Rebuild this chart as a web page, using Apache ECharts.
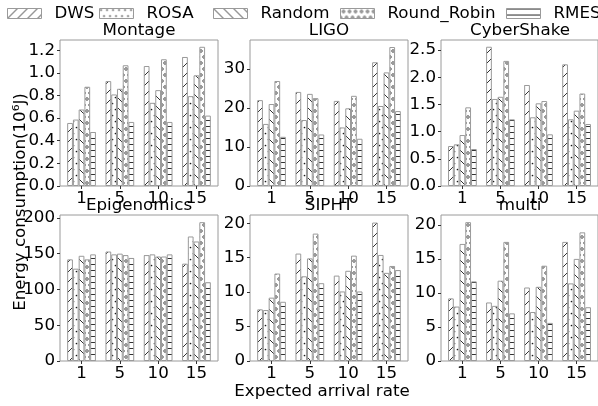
<!DOCTYPE html>
<html>
<head>
<meta charset="utf-8">
<script src="https://cdn.jsdelivr.net/npm/echarts@6/dist/echarts.min.js"></script>
<style>
  body { margin: 0; background: #fff; }
  #grafico { width: 598px; height: 406px; }
</style>
</head>
<body>
<div id="grafico"></div>
<script>
// Taxas de chegada (eixo x) e algoritmos (series)
var categorias = ['1', '5', '10', '15'];
var algoritmos = ['DWS', 'ROSA', 'Random', 'Round_Robin', 'RMES'];

// Valores, uma linha por algoritmo
var montage = [
	[0.557, 0.927, 1.06, 1.14],
	[0.587, 0.809, 0.735, 0.794],
	[0.676, 0.859, 0.847, 0.978],
	[0.877, 1.067, 1.12, 1.23],
	[0.477, 0.566, 0.566, 0.622]
];
var ligo = [
	[22.0, 24.1, 21.8, 31.7],
	[15.9, 16.9, 15.0, 20.5],
	[21.0, 23.6, 19.9, 29.1],
	[26.9, 22.5, 23.1, 35.6],
	[12.6, 13.2, 12.1, 19.2]
];
var cybershake = [
	[0.735, 2.56, 1.857, 2.237],
	[0.766, 1.60, 1.263, 1.226],
	[0.937, 1.64, 1.52, 1.385],
	[1.446, 2.30, 1.562, 1.70],
	[0.68, 1.226, 0.95, 1.14]
];
var epigenomics = [
	[142, 153, 148, 136],
	[129, 149, 149, 174],
	[147, 150, 146, 167],
	[142, 148, 146, 194],
	[149, 144, 149, 110]
];
var sipht = [
	[7.5, 15.6, 12.4, 20.1],
	[7.4, 12.3, 10.1, 15.4],
	[9.2, 14.9, 13.1, 12.8],
	[12.7, 18.5, 15.3, 13.8],
	[8.6, 11.3, 10.1, 13.2]
];
var multi = [
	[9.2, 8.6, 10.8, 17.5],
	[8.0, 8.1, 7.2, 11.4],
	[17.2, 11.8, 10.9, 15.0],
	[20.4, 17.5, 14.0, 18.9],
	[11.7, 7.0, 5.6, 7.9]
];

// Rotulos dos eixos y
var ticksMontage = [0, 0.2, 0.4, 0.6, 0.8, 1.0, 1.2];
var ticksLigo = [0, 10, 20, 30];
var ticksCyber = [0, 0.5, 1.0, 1.5, 2.0, 2.5];
var ticksEpi = [0, 50, 100, 150, 200];
var ticksSipht = [0, 5, 10, 15, 20];
var ticksMulti = [0, 5, 10, 15, 20];

var fonte = 'DejaVu Sans';
var tam = 16.7;
var corBorda = '#9a9a9a';

// Paineis (posicao em px)
var paineis = [
	{ nome: 'Montage',     dados: montage,     max: 1.29,  ticks: ticksMontage, casas: 1, left: 60,  top: 40 },
	{ nome: 'LIGO',        dados: ligo,        max: 37.4,  ticks: ticksLigo,    casas: 0, left: 250, top: 40 },
	{ nome: 'CyberShake',  dados: cybershake,  max: 2.684, ticks: ticksCyber,   casas: 1, left: 441, top: 40 },
	{ nome: 'Epigenomics', dados: epigenomics, max: 204,   ticks: ticksEpi,     casas: 0, left: 60,  top: 215 },
	{ nome: 'SIPHT',       dados: sipht,       max: 21.2,  ticks: ticksSipht,   casas: 0, left: 250, top: 215 },
	{ nome: 'multi',       dados: multi,       max: 21.45, ticks: ticksMulti,   casas: 0, left: 441, top: 215 }
];
var larg = 158, alt = 146;

// Gera as hachuras como no matplotlib
function criaHachura(tipo) {
	var c = document.createElement('canvas');
	var w = 10, h = 10;
	if (tipo == '.' || tipo == 'o') { w = 6; h = 12; }
	if (tipo == '-') { w = 6; h = 6; }
	c.width = w; c.height = h;
	var ctx = c.getContext('2d');
	ctx.fillStyle = '#fff';
	ctx.fillRect(0, 0, w, h);
	ctx.strokeStyle = '#1a1a1a';
	ctx.fillStyle = '#1a1a1a';
	ctx.lineWidth = 0.9;
	ctx.beginPath();
	if (tipo == '/') {
		ctx.moveTo(-2, h + 2); ctx.lineTo(w + 2, -2);
		ctx.moveTo(-2, 2); ctx.lineTo(2, -2);
		ctx.moveTo(w - 2, h + 2); ctx.lineTo(w + 2, h - 2);
		ctx.stroke();
	} else if (tipo == '\\') {
		ctx.moveTo(-2, -2); ctx.lineTo(w + 2, h + 2);
		ctx.moveTo(w - 2, -2); ctx.lineTo(w + 2, 2);
		ctx.moveTo(-2, h - 2); ctx.lineTo(2, h + 2);
		ctx.stroke();
	} else if (tipo == '-') {
		ctx.moveTo(0, 0.5); ctx.lineTo(w, 0.5);
		ctx.stroke();
	} else if (tipo == '.') {
		ctx.arc(1.5, 1.5, 0.85, 0, Math.PI * 2);
		ctx.moveTo(5.35, 7.5);
		ctx.arc(4.5, 7.5, 0.85, 0, Math.PI * 2);
		ctx.fill();
	} else if (tipo == 'o') {
		ctx.lineWidth = 0.7;
		ctx.arc(3, 3, 1.3, 0, Math.PI * 2);
		ctx.stroke();
		ctx.beginPath();
		ctx.arc(0, 9, 1.3, 0, Math.PI * 2);
		ctx.stroke();
		ctx.beginPath();
		ctx.arc(6, 9, 1.3, 0, Math.PI * 2);
		ctx.stroke();
	}
	return { image: c, repeat: 'repeat' };
}

var hachuras = [criaHachura('/'), criaHachura('.'), criaHachura('\\'), criaHachura('o'), criaHachura('-')];

var grafico = echarts.init(document.getElementById('grafico'));

var grids = [], eixosX = [], eixosY = [], series = [], textos = [];

paineis.forEach(function (p, k) {
	grids.push({
		left: p.left, top: p.top, width: larg, height: alt,
		show: true, borderColor: corBorda, borderWidth: 1, backgroundColor: 'transparent'
	});
	eixosX.push({
		type: 'value', gridIndex: k, min: -0.5625, max: 3.5625,
		axisLine: { show: false, onZero: false },
		splitLine: { show: false },
		axisTick: { show: true, length: 3, customValues: [0, 1, 2, 3], lineStyle: { color: '#333' } },
		axisLabel: {
			customValues: [0, 1, 2, 3], margin: 4,
			fontSize: tam, fontFamily: fonte, color: '#000',
			formatter: function (v) { return categorias[Math.round(v)]; }
		}
	});
	eixosY.push({
		type: 'value', gridIndex: k, min: 0, max: p.max,
		axisLine: { show: false, onZero: false },
		splitLine: { show: false },
		axisTick: { show: true, length: 3, customValues: p.ticks, lineStyle: { color: '#333' } },
		axisLabel: {
			customValues: p.ticks, margin: 5,
			fontSize: tam, fontFamily: fonte, color: '#000',
			formatter: function (v) { return v.toFixed(p.casas); }
		}
	});
	for (var i = 0; i < algoritmos.length; i++) {
		series.push({
			type: 'bar',
			name: algoritmos[i],
			xAxisIndex: k, yAxisIndex: k,
			barWidth: 5.75,
			barGap: '0%',
			itemStyle: { color: hachuras[i], borderColor: corBorda, borderWidth: 1 },
			data: p.dados[i].map(function (v, j) { return [j, v]; })
		});
	}
	// Titulo do painel
	textos.push({
		type: 'text', x: p.left + larg / 2, y: p.top - 9,
		style: { text: p.nome, fontSize: tam, fontFamily: fonte, fill: '#000', align: 'center', verticalAlign: 'middle' }
	});
});

// Rotulos gerais
textos.push({
	type: 'text', x: 322, y: 392,
	style: { text: 'Expected arrival rate', fontSize: tam, fontFamily: fonte, fill: '#000', align: 'center', verticalAlign: 'middle' }
});
textos.push({
	type: 'text', x: 21, y: 202, rotation: Math.PI / 2,
	style: { text: 'Energy consumption(10⁶J)', fontSize: tam, fontFamily: fonte, fill: '#000', align: 'center', verticalAlign: 'middle' }
});

// Legenda: uma por item para posicionar como no original
var posLegenda = [7, 99, 213, 340, 506];
var legendas = algoritmos.map(function (nome, i) {
	return {
		data: [nome], left: posLegenda[i], top: 5, padding: 0,
		icon: 'rect', itemWidth: 34, itemHeight: 10, selectedMode: false,
		itemStyle: { borderColor: corBorda, borderWidth: 1 },
		textStyle: { fontSize: tam, fontFamily: fonte, color: '#000', padding: [0, 0, 0, 8] }
	};
});

var opcoes = {
	animation: false,
	backgroundColor: '#fff',
	legend: legendas,
	grid: grids,
	xAxis: eixosX,
	yAxis: eixosY,
	series: series,
	graphic: textos
};

grafico.setOption(opcoes);
</script>
</body>
</html>
